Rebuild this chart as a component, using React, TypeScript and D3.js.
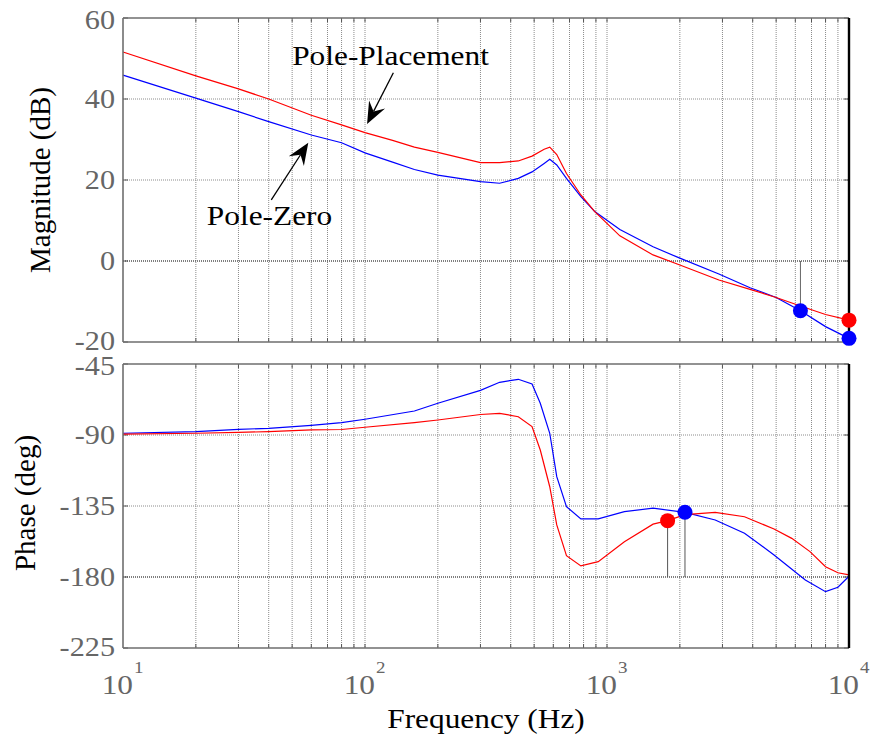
import React from 'react';
import * as d3 from 'd3';

// ---- data ----
const magFreq = [10, 20, 30, 40, 60, 80, 100, 130, 160, 200, 300, 360, 430, 490, 550, 580, 620, 680, 780, 890, 1130, 1550, 2000, 2900, 3900, 5000, 6300, 8000, 10000];
const magPolePlacement = [51.6, 45.7, 42.5, 40.0, 36.0, 33.6, 31.7, 29.8, 28.1, 26.8, 24.3, 24.3, 24.7, 25.9, 27.6, 28.1, 26.3, 21.6, 16.3, 12.2, 6.2, 1.5, -1.0, -4.7, -7.0, -9.0, -11.1, -13.2, -14.6];
const magPoleZero = [45.9, 40.2, 36.9, 34.4, 31.1, 29.2, 26.7, 24.4, 22.6, 21.2, 19.6, 19.2, 20.4, 22.0, 24.1, 25.1, 23.7, 20.4, 15.9, 12.2, 7.8, 3.5, 0.7, -3.2, -6.6, -9.0, -12.3, -16.2, -19.1];

const phaseFreqPoleZero = [10, 20, 30, 40, 60, 80, 100, 160, 200, 300, 360, 430, 490, 530, 580, 620, 680, 780, 920, 1180, 1550, 2100, 2800, 3700, 4900, 6600, 8000, 9000, 10000];
const phasePoleZero = [-88.9, -87.9, -86.4, -85.8, -83.9, -82.2, -80.0, -74.8, -69.9, -61.7, -56.6, -54.7, -57.7, -69.9, -88.9, -116.4, -135.4, -143.2, -143.2, -138.6, -136.4, -139.0, -143.9, -152.3, -166.0, -181.9, -189.3, -186.5, -179.5];

const phaseFreqPolePlacement = [10, 20, 30, 40, 60, 80, 100, 160, 200, 300, 360, 430, 490, 530, 580, 620, 680, 780, 920, 1180, 1550, 1780, 2100, 2800, 3700, 4900, 5800, 6900, 8000, 9000, 10000];
const phasePolePlacement = [-89.5, -88.9, -88.3, -87.9, -86.8, -86.5, -85.1, -82.2, -80.5, -77.0, -76.3, -78.4, -84.7, -99.5, -122.8, -147.0, -166.5, -173.0, -170.3, -157.6, -146.5, -144.3, -140.5, -139.0, -141.8, -149.6, -155.5, -163.9, -173.5, -177.3, -178.7];

// stability margin markers
const magMarkerFreq = [6300, 10000, 10000];
const magMarkerValue = [-12.3, -14.6, -19.1];
const magMarkerSeries = ['pz', 'pp', 'pz'];
const magMarkerStem = [true, false, false];
const phaseMarkerFreq = [1780, 2100];
const phaseMarkerValue = [-144.3, -139.0];
const phaseMarkerSeries = ['pp', 'pz'];

const magTicks = [60, 40, 20, 0, -20];
const phaseTicks = [-45, -90, -135, -180, -225];
const decadeTicks = [10, 100, 1000, 10000];
const decadeExponents = ['1', '2', '3', '4'];

const seriesColor: Record<string, string> = { pp: '#ff0000', pz: '#0000ff' };

// ---- layout ----
const W = 873;
const H = 742;
const X0 = 123;
const X1 = 849;
const MAG_TOP = 18;
const MAG_BOT = 342;
const PH_TOP = 364;
const PH_BOT = 648;
const FONT = '"Liberation Serif", "Times New Roman", serif';
const STRETCH = 1.12;

const x = d3.scaleLog().domain([10, 10000]).range([X0, X1]);
const yMag = d3.scaleLinear().domain([-20, 60]).range([MAG_BOT, MAG_TOP]);
const yPh = d3.scaleLinear().domain([-225, -45]).range([PH_BOT, PH_TOP]);

const minorFreqs: number[] = [];
[10, 100, 1000].forEach((d) => {
  for (let k = 2; k <= 9; k++) minorFreqs.push(d * k);
});

function T(props: { x: number; y: number; anchor?: string; size?: number; fill?: string; children: React.ReactNode }) {
  const { x: tx, y: ty, anchor = 'start', size = 28, fill = '#000', children } = props;
  return (
    <text
      transform={`translate(${tx},${ty}) scale(${STRETCH},1)`}
      textAnchor={anchor}
      fontFamily={FONT}
      fontSize={size}
      fill={fill}
    >
      {children}
    </text>
  );
}

function Panel(props: {
  y: d3.ScaleLinear<number, number>;
  top: number;
  bottom: number;
  ticks: number[];
  refLine: number;
  children?: React.ReactNode;
}) {
  const { y, top, bottom, ticks, refLine, children } = props;
  const gridX = [...minorFreqs, 100, 1000];
  return (
    <g>
      {/* vertical grid */}
      {gridX.map((f) => (
        <line key={'gx' + f} x1={x(f)} x2={x(f)} y1={top} y2={bottom} stroke="#8c8c8c" strokeWidth={1} strokeDasharray="1 1" />
      ))}
      {/* horizontal grid */}
      {ticks
        .filter((t) => y(t) > top + 1 && y(t) < bottom - 1)
        .map((t) => (
          <line
            key={'gy' + t}
            x1={X0}
            x2={X1}
            y1={y(t)}
            y2={y(t)}
            stroke={t === refLine ? '#555' : '#8c8c8c'}
            strokeWidth={t === refLine ? 1.6 : 1}
            strokeDasharray="1 1"
          />
        ))}
      {/* tick marks */}
      {gridX.map((f) => (
        <g key={'tx' + f}>
          <line x1={x(f)} x2={x(f)} y1={top} y2={top + 4} stroke="#555" />
          <line x1={x(f)} x2={x(f)} y1={bottom} y2={bottom - 4} stroke="#555" />
        </g>
      ))}
      {ticks.map((t) => (
        <g key={'ty' + t}>
          <line x1={X0} x2={X0 + 5} y1={y(t)} y2={y(t)} stroke="#555" />
          <line x1={X1} x2={X1 - 5} y1={y(t)} y2={y(t)} stroke="#555" />
        </g>
      ))}
      {children}
      {/* frame */}
      <line x1={X0} x2={X1} y1={top} y2={top} stroke="#6e6e6e" strokeWidth={1.6} />
      <line x1={X0} x2={X1} y1={bottom} y2={bottom} stroke="#6e6e6e" strokeWidth={1.6} />
      <line x1={X0} x2={X0} y1={top} y2={bottom} stroke="#6e6e6e" strokeWidth={1.6} />
      <line x1={X1} x2={X1} y1={top} y2={bottom} stroke="#000" strokeWidth={2.4} />
      {/* y tick labels */}
      {ticks.map((t, i) => (
        <T key={'yl' + t} x={115} y={y(t) + (i === 0 ? 11 : i === ticks.length - 1 ? 8 : 9)} anchor="end" size={27} fill="#666">
          {String(t)}
        </T>
      ))}
    </g>
  );
}

function Arrow(props: { x1: number; y1: number; x2: number; y2: number }) {
  const { x1, y1, x2, y2 } = props;
  const ang = Math.atan2(y2 - y1, x2 - x1);
  const L = 22;
  const Wd = 9;
  const bx = x2 - L * Math.cos(ang);
  const by = y2 - L * Math.sin(ang);
  const px = -Math.sin(ang);
  const py = Math.cos(ang);
  const mx = x2 - 0.65 * L * Math.cos(ang);
  const my = y2 - 0.65 * L * Math.sin(ang);
  const pts = [
    [x2, y2],
    [bx + Wd * px, by + Wd * py],
    [mx, my],
    [bx - Wd * px, by - Wd * py],
  ];
  return (
    <g>
      <line x1={x1} y1={y1} x2={mx} y2={my} stroke="#000" strokeWidth={1.3} />
      <polygon points={pts.map((p) => p.join(',')).join(' ')} fill="#000" />
    </g>
  );
}

export default function App() {
  const magLine = (fs: number[], vs: number[]) =>
    d3.line<number>().x((_, i) => x(fs[i])).y((v) => yMag(v))(vs) || '';
  const phLine = (fs: number[], vs: number[]) =>
    d3.line<number>().x((_, i) => x(fs[i])).y((v) => yPh(v))(vs) || '';

  return (
    <svg width={W} height={H} style={{ position: 'absolute', left: 0, top: 0, background: '#fff' }}>
      <rect x={0} y={0} width={W} height={H} fill="#fff" />
      {/* magnitude panel */}
      <Panel y={yMag} top={MAG_TOP} bottom={MAG_BOT} ticks={magTicks} refLine={0}>
        {magMarkerFreq.map((f, i) =>
          magMarkerStem[i] ? (
            <line key={'ms' + i} x1={x(f)} x2={x(f)} y1={yMag(0)} y2={yMag(magMarkerValue[i])} stroke="#666" strokeWidth={1} />
          ) : null
        )}
        <path d={magLine(magFreq, magPoleZero)} fill="none" stroke={seriesColor.pz} strokeWidth={1.2} />
        <path d={magLine(magFreq, magPolePlacement)} fill="none" stroke={seriesColor.pp} strokeWidth={1.2} />
      </Panel>
      {/* phase panel */}
      <Panel y={yPh} top={PH_TOP} bottom={PH_BOT} ticks={phaseTicks} refLine={-180}>
        {phaseMarkerFreq.map((f, i) => (
          <line key={'ps' + i} x1={x(f)} x2={x(f)} y1={yPh(-180)} y2={yPh(phaseMarkerValue[i])} stroke="#555" strokeWidth={1} />
        ))}
        <path d={phLine(phaseFreqPoleZero, phasePoleZero)} fill="none" stroke={seriesColor.pz} strokeWidth={1.2} />
        <path d={phLine(phaseFreqPolePlacement, phasePolePlacement)} fill="none" stroke={seriesColor.pp} strokeWidth={1.2} />
      </Panel>

      {/* markers drawn on top */}
      {magMarkerFreq.map((f, i) => (
        <circle key={'mm' + i} cx={x(f)} cy={yMag(magMarkerValue[i])} r={7.5} fill={seriesColor[magMarkerSeries[i]]} />
      ))}
      {phaseMarkerFreq.map((f, i) => (
        <circle key={'pm' + i} cx={x(f)} cy={yPh(phaseMarkerValue[i])} r={7.5} fill={seriesColor[phaseMarkerSeries[i]]} />
      ))}

      {/* annotations */}
      <T x={x(50)} y={yMag(48.4)} size={28}>Pole-Placement</T>
      <Arrow x1={x(131)} y1={yMag(46.5)} x2={x(102)} y2={yMag(33.8)} />
      <T x={x(22.2)} y={yMag(8.9)} size={28}>Pole-Zero</T>
      <Arrow x1={x(41)} y1={yMag(15.1)} x2={x(58.3)} y2={yMag(29.2)} />

      {/* x tick labels */}
      {decadeTicks.map((f, i) => (
        <g key={'xl' + f}>
          <T x={x(f) + 10} y={694} anchor="end" size={28} fill="#666">10</T>
          <T x={x(f) + 11} y={673} anchor="start" size={17} fill="#666">{decadeExponents[i]}</T>
        </g>
      ))}

      {/* axis labels */}
      <T x={(X0 + X1) / 2} y={728} anchor="middle" size={28}>Frequency  (Hz)</T>
      <text transform={`translate(50,${(MAG_TOP + MAG_BOT) / 2}) rotate(-90)`} textAnchor="middle" fontFamily={FONT} fontSize={29}>
        Magnitude (dB)
      </text>
      <text transform={`translate(35,${(PH_TOP + PH_BOT) / 2 - 3}) rotate(-90)`} textAnchor="middle" fontFamily={FONT} fontSize={29}>
        Phase (deg)
      </text>
    </svg>
  );
}
